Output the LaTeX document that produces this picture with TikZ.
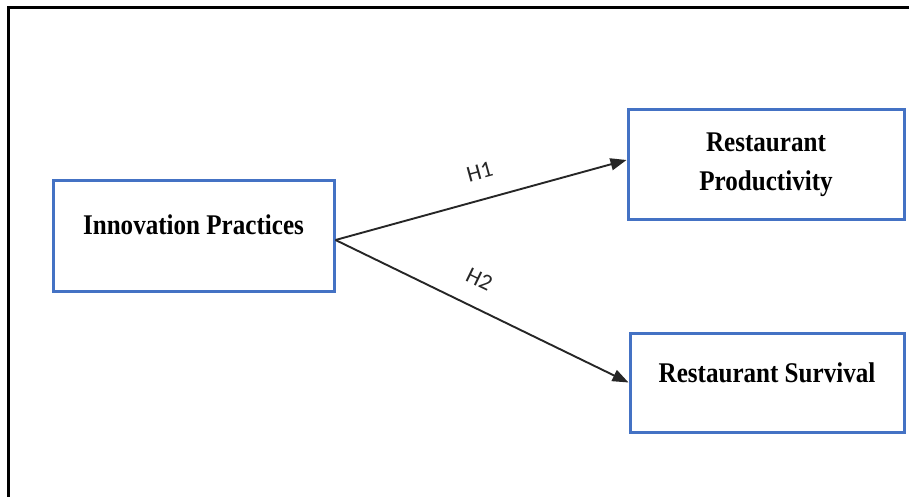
\documentclass[tikz,border=0pt]{standalone}
\usepackage{fontspec}
\newfontfamily\cajafont{Liberation Serif}[FakeStretch=0.88]
\newfontfamily\hipfont{Carlito}
\usetikzlibrary{arrows.meta}
\definecolor{azul}{RGB}{68,114,196}
\tikzstyle{caja}= [rectangle,draw=azul,line width=3pt,inner sep=0pt,align=center,font=\cajafont\bfseries\fontsize{28.5}{39}\selectfont]
\tikzstyle{flecha}= [black!85,line width=1.9pt,-{Triangle[length=16pt,width=12pt]}]
\tikzstyle{hip}= [sloped,above=17pt,inner sep=2pt,black!85,font=\hipfont\fontsize{23}{26}\selectfont]

\begin{document}
\begin{tikzpicture}[x=1pt,y=-1pt]

		\useasboundingbox (0,0) rectangle (909,497);
		\draw[line width=3.5pt] (8.5,497) -- (8.5,7.5) -- (909,7.5);

		\node (inno) at (193.5,235.5) [caja,minimum width=281pt,minimum height=111pt,text depth=21pt] {Innovation Practices};

		\node (prod) at (766,164.5) [caja,minimum width=276pt,minimum height=109pt] {Restaurant\\Productivity};

		\node (surv) at (767,382.5) [caja,minimum width=274pt,minimum height=99pt,text depth=19pt] {Restaurant Survival};

		\coordinate (salida) at ([yshift=-4.5pt]inno.east);
		\coordinate (llegada) at ([yshift=4.5pt]prod.west);

		\path[flecha] (salida) edge[] node[hip,pos=0.52] {H1} (llegada);
		\path[flecha] (salida) edge[] node[hip,pos=0.45] {H2} (surv.west);

	\end{tikzpicture}
\end{document}
